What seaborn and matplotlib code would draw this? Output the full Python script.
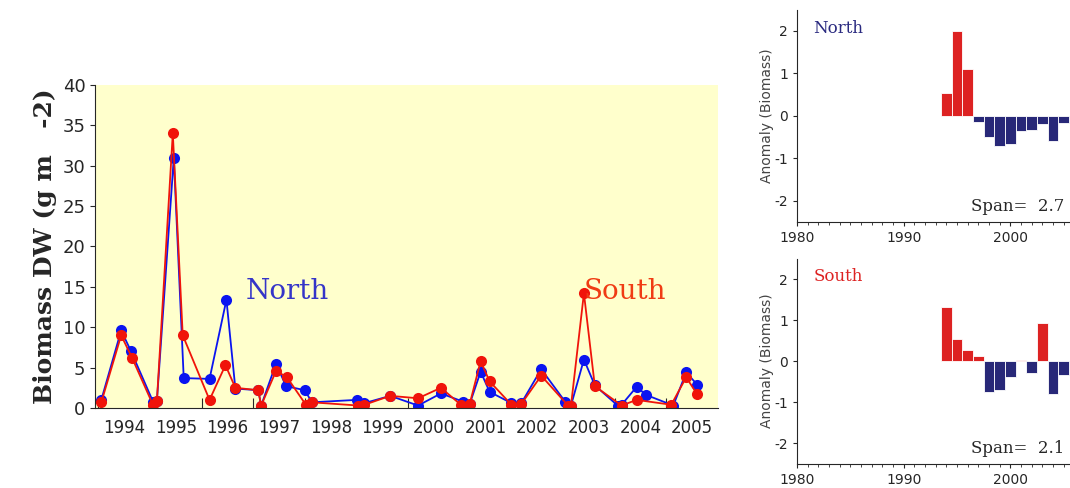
import matplotlib
matplotlib.use("Agg")
import matplotlib.pyplot as plt
import numpy as np
import pandas as pd
import seaborn as sns

# pixel readings converted to decimal years
north_px = [101, 121, 131, 153, 157, 174, 184, 210, 227, 236, 259, 262, 277, 287, 306, 313,
            358, 366, 392, 420, 443, 465, 472, 483, 492, 514, 524, 544, 568, 574, 587, 598,
            621, 625, 640, 650, 677, 690, 701]
north_val = [1.0, 9.6, 7.0, 0.8, 0.9, 31.0, 3.7, 3.6, 13.4, 2.4, 2.2, 0.3, 5.5, 2.7, 2.2, 0.7,
             1.0, 0.6, 1.5, 0.3, 1.8, 0.8, 0.5, 4.5, 2.0, 0.6, 0.6, 4.8, 0.8, 0.3, 6.0, 2.8,
             0.3, 0.4, 2.6, 1.6, 0.3, 4.4, 2.9]
south_px = [101, 121, 132, 153, 157, 173, 183, 210, 226, 236, 259, 262, 277, 288, 307, 313,
            360, 366, 392, 420, 443, 463, 472, 483, 492, 514, 524, 544, 571, 574, 587, 598,
            625, 640, 675, 690, 701]
south_val = [0.7, 9.0, 6.2, 0.4, 0.9, 34.0, 9.0, 1.0, 5.3, 2.5, 2.2, 0.3, 4.6, 3.8, 0.4, 0.7,
             0.3, 0.4, 1.5, 1.2, 2.5, 0.4, 0.5, 5.8, 3.3, 0.4, 0.5, 4.0, 0.3, 0.3, 14.2, 2.7,
             0.3, 1.0, 0.4, 3.8, 1.7]
north_t = [1994 + (p - 98) / 52 for p in north_px]
south_t = [1994 + (p - 98) / 52 for p in south_px]

years = list(range(1994, 2006))
anom_north = [0.55, 2.0, 1.1, -0.15, -0.5, -0.7, -0.67, -0.35, -0.33, -0.2, -0.6, -0.17]
anom_south = [1.33, 0.53, 0.26, 0.13, -0.75, -0.7, -0.38, 0.03, -0.28, 0.92, -0.8, -0.35]

sns.set_style("ticks")
plt.rcParams["axes.unicode_minus"] = False
fig = plt.figure(figsize=(10.7, 4.88), dpi=100)

ax = fig.add_axes([0.089, 0.164, 0.582, 0.662])
ax.set_facecolor("#ffffcc")
sns.lineplot(x=north_t, y=north_val, ax=ax, color="#0a14f0", lw=1.3, marker="o",
             markersize=8, markeredgewidth=0, sort=False)
sns.lineplot(x=south_t, y=south_val, ax=ax, color="#f0140a", lw=1.3, marker="o",
             markersize=8, markeredgewidth=0, sort=False)
ax.set_xlim(1993.94, 2006)
ax.set_ylim(0, 40)
ax.set_yticks(range(0, 41, 5))
ax.set_xticks(range(1994, 2006))
ax.set_xticklabels([])
ax.set_xticks([y + 0.5 for y in years], minor=True)
ax.set_xticklabels([str(y) for y in years], minor=True)
ax.tick_params(axis="x", which="minor", length=0, labelsize=12, pad=8)
ax.tick_params(axis="x", which="major", length=7, direction="in")
ax.tick_params(axis="y", labelsize=13)
ax.set_ylabel("Biomass DW (g m   -2)", family="DejaVu Serif", fontweight="bold", fontsize=18)
ax.text(1996.85, 13.5, "North", color="#3535c8", family="DejaVu Serif", fontsize=20)
ax.text(2003.4, 13.5, "South", color="#f03c14", family="DejaVu Serif", fontsize=20)
for s in ["top", "right"]:
    ax.spines[s].set_visible(False)

def anomaly(rect, vals, name, ncol, span):
    a = fig.add_axes(rect)
    df = pd.DataFrame({"year": years, "v": vals})
    a.bar(df["year"], df["v"], width=1.0,
          color=["#dd2222" if v > 0 else "#282878" for v in df["v"]],
          edgecolor="white", linewidth=0.6)
    a.set_xlim(1980, 2005.6)
    a.set_ylim(-2.5, 2.5)
    a.set_yticks([-2, -1, 0, 1, 2])
    a.set_xticks([1980, 1990, 2000])
    a.set_xticks(range(1980, 2006), minor=True)
    a.tick_params(labelsize=10, length=3)
    a.tick_params(which="minor", length=2)
    a.set_ylabel("Anomaly (Biomass)", fontsize=10, labelpad=0, color="#444444")
    a.text(1981.5, 1.95, name, color=ncol, family="DejaVu Serif", fontsize=12)
    a.text(1996.3, -2.25, "Span=  " + span, family="DejaVu Serif", fontsize=12)
    sns.despine(ax=a)

anomaly([0.745, 0.545, 0.255, 0.435], anom_north, "North", "#2a2a80", "2.7")
anomaly([0.745, 0.05, 0.255, 0.42], anom_south, "South", "#dd2222", "2.1")

fig.savefig("out.png", dpi=100)
